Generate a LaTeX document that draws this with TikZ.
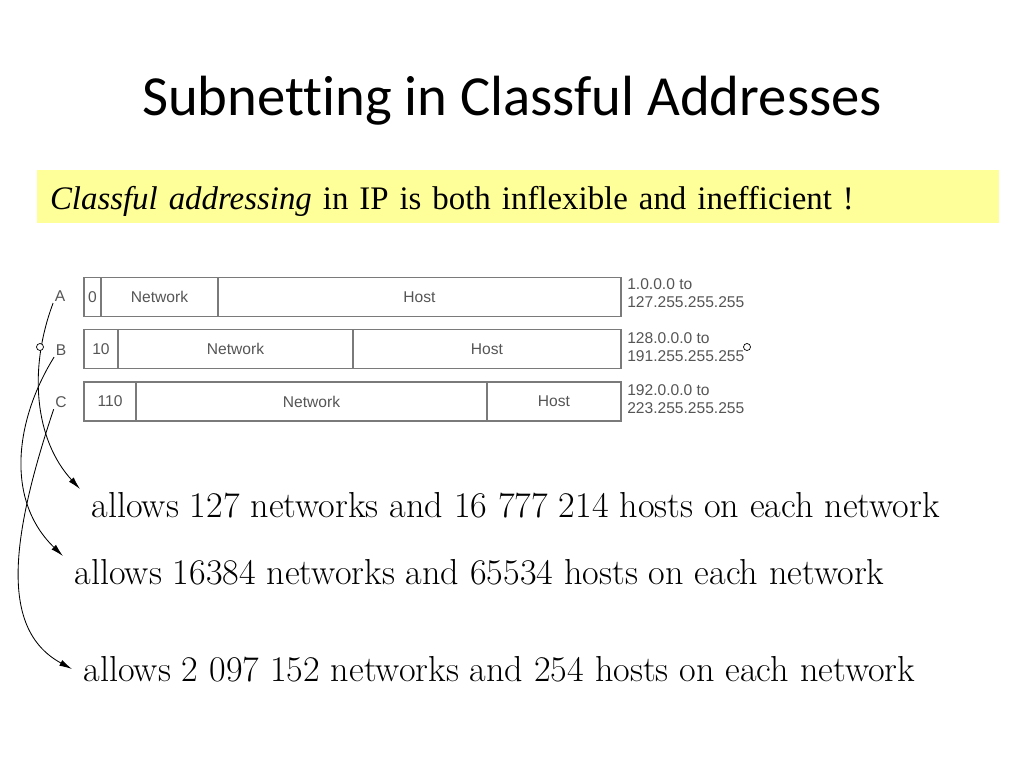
\documentclass[tikz,border=0pt]{standalone}
\usepackage{fontspec}
\newfontfamily\titlefont[Ligatures=NoCommon]{Carlito}
\newfontfamily\timesfont{Liberation Serif}
\newfontfamily\figfont{Liberation Sans}
\usepackage{xcolor}
\usetikzlibrary{positioning}
\usetikzlibrary{arrows.meta}
\definecolor{noteyellow}{HTML}{FFFF99}
\definecolor{figgray}{HTML}{555555}
\definecolor{boxgray}{HTML}{7A7A7A}
\newlength\pxu
\setlength\pxu{0.0248cm}
\tikzset{
  field/.style={draw=boxgray, line width=1pt, minimum height=39\pxu, inner sep=0pt, text=figgray, font=\figfont\fontsize{11}{13}\selectfont},
  classlbl/.style={inner sep=1pt, text=figgray, font=\figfont\fontsize{11}{13}\selectfont},
  iprange/.style={anchor=west, align=left, inner sep=0pt, text=figgray, font=\figfont\fontsize{11}{12.2}\selectfont},
  allows/.style={anchor=west, inner xsep=8pt, inner ysep=2pt, font=\fontsize{25.5}{30}\selectfont},
  link/.style={-{Latex[length=9pt,width=4.5pt]}, line width=0.6pt},
  handle/.style={circle, draw=black, line width=0.5pt, inner sep=0pt, minimum size=7\pxu}
}
\begin{document}
\begin{tikzpicture}[x=\pxu, y=-\pxu]
    \useasboundingbox (0,0) rectangle (1024,768);
    \node[font=\titlefont\fontsize{40}{46}\selectfont] (title) at (512,101) {Subnetting in Classful Addresses};
    \node[fill=noteyellow, minimum height=53\pxu, text width=936\pxu, inner xsep=13\pxu, align=left, text height=23pt, text depth=5pt, font=\timesfont\fontsize{23.2}{27}\selectfont] (claim) at (518,196.5) {\textit{Classful addressing} in IP is both inflexible and inefficient !};
    \node[classlbl] (lA) at (60,296) {A};
    \node[classlbl] (lB) at (61,350) {B};
    \node[classlbl] (lC) at (61,402) {C};
    \node[field, minimum width=17\pxu] (A0) at (92.5,297) {0};
    \node[field, minimum width=117\pxu] (ANet) at (159.5,297) {Network};
    \node[field, minimum width=403\pxu] (AHost) at (419.5,297) {Host};
    \node[field, minimum width=34\pxu] (B10) at (101,349) {10};
    \node[field, minimum width=235\pxu] (BNet) at (235.5,349) {Network};
    \node[field, minimum width=268\pxu] (BHost) at (487,349) {Host};
    \node[field, minimum width=52\pxu] (C110) at (110,401.5) {110};
    \node[field, minimum width=351\pxu] (CNet) at (311.5,401.5) {Network};
    \node[field, minimum width=134\pxu] (CHost) at (554,401.5) {Host};
    \node[iprange] (rA) at (627,293) {1.0.0.0 to\\127.255.255.255};
    \node[iprange] (rB) at (627,347) {128.0.0.0 to\\191.255.255.255};
    \node[iprange] (rC) at (627,399) {192.0.0.0 to\\223.255.255.255};
    \node[allows] (tA) at (80,505) {allows 127 networks and 16 777 214 hosts on each network};
    \node[allows] (tB) at (63,572) {allows 16384 networks and 65534 hosts on each network};
    \node[allows] (tC) at (72,669) {allows 2 097 152 networks and 254 hosts on each network};
    \draw [link] (lA.south west) .. controls (28,370) and (35,440) .. (tA.north west);
    \draw [link] (lB.south west) .. controls (15,420) and (5,500) .. (tB.north west);
    \draw [link] (lC.south west) .. controls (10,540) and (0,630) .. (tC.west);
    \node[handle, fill=white] (hA) at (40,347) {};
    \node[handle, fill=white] (hB) at (747,347) {};
\end{tikzpicture}
\end{document}
